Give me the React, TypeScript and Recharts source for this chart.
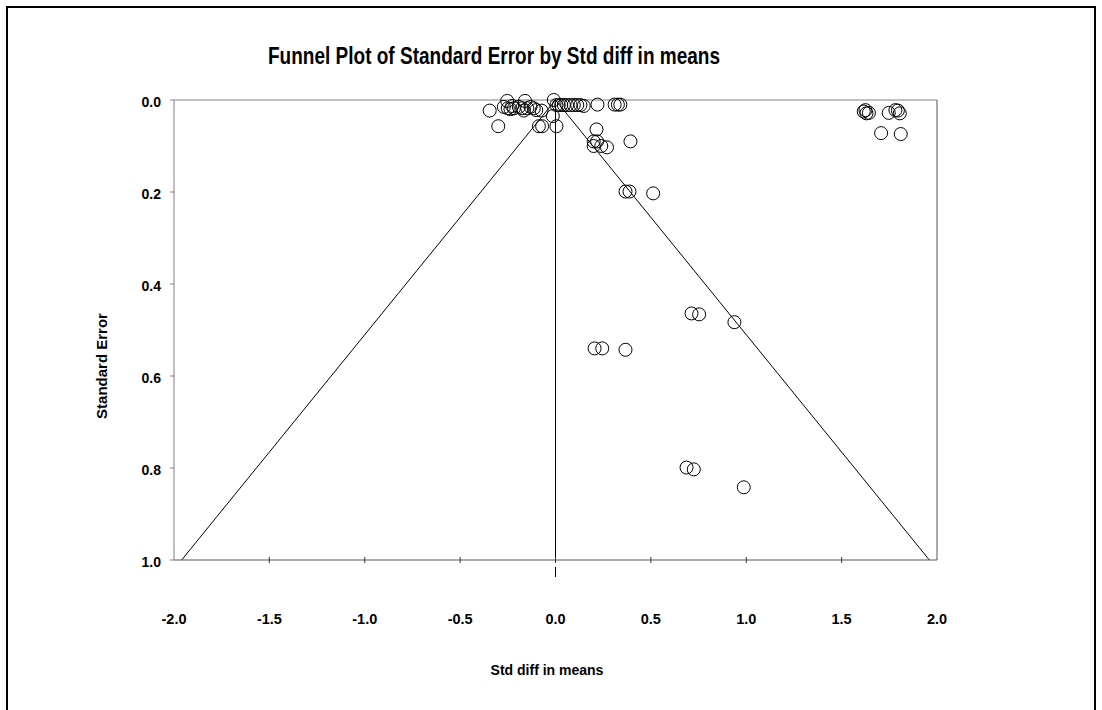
import React from 'react';
import { ScatterChart, Scatter, XAxis, YAxis, ReferenceLine, Customized } from 'recharts';

// Std diff in means (x) and Standard Error (y) of each study
const studyEffect: number[] = [
  -0.345, -0.300, -0.253, -0.271, -0.250, -0.236, -0.218, -0.227, -0.160, -0.192,
  -0.175, -0.166, -0.148, -0.131, -0.114, -0.101, -0.073, -0.087, -0.070, 0.005,
  -0.014, -0.009, 0.005, 0.017, 0.030, 0.044, 0.061, 0.079, 0.096, 0.114,
  0.131, 0.148, 0.220, 0.310, 0.327, 0.340, 0.215, 0.200, 0.218, 0.200,
  0.240, 0.270, 0.393, 0.367, 0.388, 0.512, 0.713, 0.753, 0.938, 0.205,
  0.245, 0.367, 0.687, 0.725, 0.987, 1.616, 1.630, 1.643, 1.625, 1.747,
  1.782, 1.805, 1.795, 1.707, 1.810,
];
const studySE: number[] = [
  0.023, 0.057, 0.002, 0.015, 0.018, 0.020, 0.018, 0.013, 0.002, 0.015,
  0.018, 0.023, 0.018, 0.015, 0.018, 0.022, 0.023, 0.057, 0.057, 0.057,
  0.035, 0.000, 0.011, 0.011, 0.011, 0.011, 0.011, 0.011, 0.011, 0.011,
  0.011, 0.013, 0.010, 0.010, 0.010, 0.010, 0.064, 0.090, 0.090, 0.100,
  0.100, 0.103, 0.090, 0.199, 0.199, 0.203, 0.464, 0.466, 0.483, 0.540,
  0.540, 0.543, 0.799, 0.803, 0.842, 0.025, 0.029, 0.028, 0.022, 0.028,
  0.022, 0.029, 0.023, 0.072, 0.074,
];

const xTicks: number[] = [-2.0, -1.5, -1.0, -0.5, 0.0, 0.5, 1.0, 1.5, 2.0];
const yTicks: number[] = [0.0, 0.2, 0.4, 0.6, 0.8, 1.0];

const summaryEffect = 0.0;
const maxSE = 1.0;
const zCrit = 1.96;

const titleText = 'Funnel Plot of Standard Error by Std diff in means';
const xLabel = 'Std diff in means';
const yLabel = 'Standard Error';

const points = studyEffect.map((x, i) => ({ x, y: studySE[i] }));

const FONT = '"Liberation Sans", Arial, sans-serif';

const XTick = (props: any) => {
  const { x, y, payload } = props;
  const v = payload.value as number;
  const edge = v === xTicks[0] || v === xTicks[xTicks.length - 1];
  return (
    <g>
      {!edge && <line x1={x} x2={x} y1={y - 3} y2={y + 3} stroke="#333" strokeWidth={1} />}
      <text x={x} y={y + 64} textAnchor="middle" fontFamily={FONT} fontWeight="bold" fontSize={14.5} fill="#000">
        {v.toFixed(1)}
      </text>
    </g>
  );
};

const YTick = (props: any) => {
  const { x, y, payload } = props;
  const v = payload.value as number;
  return (
    <g>
      <line x1={x - 4} x2={x} y1={y} y2={y} stroke="#808080" strokeWidth={1} />
      <text x={x - 13} y={y + 2} textAnchor="end" dominantBaseline="central" fontFamily={FONT} fontWeight="bold" fontSize={14} fill="#000">
        {v.toFixed(1)}
      </text>
    </g>
  );
};

const Circle = (props: any) => {
  const { cx, cy } = props;
  return <circle cx={cx} cy={cy} r={6.5} fill="none" stroke="#000" strokeWidth={1} />;
};

const Texts = () => (
  <g>
    <text x={494} y={64} textAnchor="middle" fontFamily={FONT} fontWeight="bold" fontSize={24} textLength={452} lengthAdjust="spacingAndGlyphs" fill="#000">
      {titleText}
    </text>
    <text x={547} y={675} textAnchor="middle" fontFamily={FONT} fontWeight="bold" fontSize={14} fill="#000">
      {xLabel}
    </text>
    <text x={107} y={366} textAnchor="middle" fontFamily={FONT} fontWeight="bold" fontSize={15} fill="#000" transform="rotate(-90 107 366)">
      {yLabel}
    </text>
  </g>
);

export default function App() {
  return (
    <div style={{ position: 'absolute', left: 0, top: 0, width: 1102, height: 710, background: '#fff' }}>
      <div style={{ position: 'absolute', left: 6, top: 6, width: 1090, height: 720, border: '2px solid #000', boxSizing: 'border-box' }} />
      <div style={{ position: 'absolute', left: 0, top: 0 }}>
        <ScatterChart width={1102} height={710} margin={{ top: 100, right: 165, bottom: 120, left: 114 }}>
          <XAxis
            type="number"
            dataKey="x"
            domain={[-2, 2]}
            ticks={xTicks}
            height={30}
            tickSize={0}
            tickMargin={0}
            tickLine={false}
            axisLine={{ stroke: '#555', strokeWidth: 1 }}
            tick={<XTick />}
            interval={0}
          />
          <YAxis
            type="number"
            dataKey="y"
            domain={[0, 1]}
            reversed
            ticks={yTicks}
            width={60}
            tickSize={0}
            tickMargin={0}
            tickLine={false}
            axisLine={{ stroke: '#808080', strokeWidth: 1 }}
            tick={<YTick />}
            interval={0}
          />
          <ReferenceLine y={0} stroke="#808080" strokeWidth={1} ifOverflow="visible" />
          <ReferenceLine x={2} stroke="#555" strokeWidth={1} ifOverflow="visible" />
          <ReferenceLine x={summaryEffect} stroke="#000" strokeWidth={1} ifOverflow="visible" />
          <ReferenceLine
            segment={[{ x: summaryEffect - zCrit * maxSE, y: maxSE }, { x: summaryEffect, y: 0 }]}
            stroke="#000"
            strokeWidth={1}
            ifOverflow="visible"
          />
          <ReferenceLine
            segment={[{ x: summaryEffect, y: 0 }, { x: summaryEffect + zCrit * maxSE, y: maxSE }]}
            stroke="#000"
            strokeWidth={1}
            ifOverflow="visible"
          />
          <ReferenceLine
            segment={[{ x: summaryEffect, y: 1.015 }, { x: summaryEffect, y: 1.037 }]}
            stroke="#000"
            strokeWidth={1}
            ifOverflow="visible"
          />
          <Scatter data={points} shape={<Circle />} isAnimationActive={false} />
          <Customized component={Texts} />
        </ScatterChart>
      </div>
    </div>
  );
}
